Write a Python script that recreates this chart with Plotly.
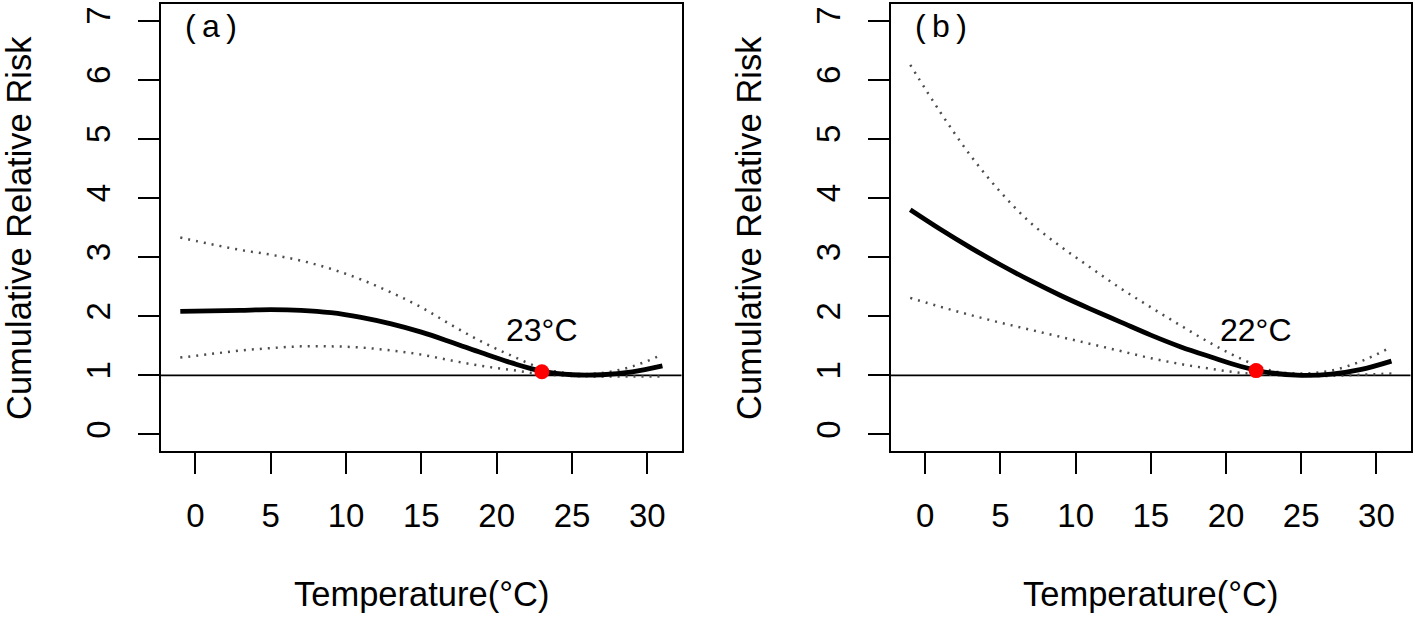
import plotly.graph_objects as go

# Temperature grid (°C)
temp = [-1, 1, 3, 5, 7, 9, 11, 13, 15, 17, 19, 21, 23, 25, 27, 29, 31]

# Panel (a)
rr_a = [2.08, 2.09, 2.10, 2.11, 2.10, 2.06, 1.98, 1.87, 1.73, 1.56, 1.38, 1.21, 1.07, 1.01, 1.01, 1.06, 1.16]
hi_a = [3.33, 3.22, 3.12, 3.04, 2.94, 2.80, 2.62, 2.40, 2.15, 1.85, 1.57, 1.33, 1.12, 1.03, 1.04, 1.15, 1.35]
lo_a = [1.30, 1.36, 1.42, 1.46, 1.49, 1.49, 1.47, 1.42, 1.35, 1.25, 1.16, 1.09, 1.02, 0.99, 0.98, 0.98, 0.98]
mmt_a = 23
mmt_rr_a = 1.06

# Panel (b)
rr_b = [3.80, 3.47, 3.16, 2.87, 2.60, 2.35, 2.12, 1.90, 1.68, 1.48, 1.31, 1.15, 1.04, 1.00, 1.02, 1.10, 1.24]
hi_b = [6.25, 5.45, 4.72, 4.10, 3.58, 3.18, 2.82, 2.47, 2.15, 1.84, 1.54, 1.28, 1.08, 1.03, 1.08, 1.24, 1.48]
lo_b = [2.31, 2.16, 2.02, 1.89, 1.77, 1.65, 1.53, 1.41, 1.29, 1.19, 1.11, 1.04, 1.01, 0.99, 0.99, 1.01, 1.03]
mmt_b = 22
mmt_rr_b = 1.08

x_ticks = [0, 5, 10, 15, 20, 25, 30]
y_ticks = [0, 1, 2, 3, 4, 5, 6, 7]

FONT = "Liberation Sans, Arial, Helvetica, sans-serif"

fig = go.Figure()

panels = [
    ("x", "y", rr_a, hi_a, lo_a, mmt_a, mmt_rr_a, "(\u2009a\u2009)"),
    ("x2", "y2", rr_b, hi_b, lo_b, mmt_b, mmt_rr_b, "(\u2009b\u2009)"),
]

for xa, ya, rr, hi, lo, mmt, mrr, lab in panels:
    # reference line at RR = 1
    fig.add_trace(go.Scatter(x=[-2.28, 32.28], y=[1, 1], mode="lines",
                             line=dict(color="black", width=1.8),
                             xaxis=xa, yaxis=ya, hoverinfo="skip"))
    for band in (hi, lo):
        fig.add_trace(go.Scatter(x=temp, y=band, mode="lines",
                                 line=dict(color="#4d4d4d", width=2.5, dash="2px,6px", shape="spline"),
                                 xaxis=xa, yaxis=ya))
    fig.add_trace(go.Scatter(x=temp, y=rr, mode="lines",
                             line=dict(color="black", width=4.8, shape="spline"),
                             xaxis=xa, yaxis=ya))
    fig.add_trace(go.Scatter(x=[mmt], y=[mrr], mode="markers",
                             marker=dict(color="red", size=15),
                             xaxis=xa, yaxis=ya))
    fig.add_annotation(x=mmt, y=1.76, xref=xa, yref=ya, text=f"{mmt}°C",
                       showarrow=False, font=dict(size=32, color="black", family=FONT),
                       xanchor="center", yanchor="middle")
    fig.add_annotation(x=1.06, y=6.9, xref=xa, yref=ya, text=lab,
                       showarrow=False, font=dict(size=32, color="black", family=FONT),
                       xanchor="center", yanchor="middle")

xcommon = dict(range=[-2.28, 32.28], tickvals=x_ticks, ticks="outside", ticklen=21,
               tickwidth=2, tickcolor="black", showline=True, linecolor="black",
               linewidth=2, mirror=True, showgrid=False, zeroline=False,
               tickfont=dict(size=33, color="black", family=FONT),
               ticklabelstandoff=13)
ycommon = dict(range=[-0.28, 7.28], tickvals=y_ticks, ticks="outside", ticklen=21,
               tickwidth=2, tickcolor="black", showline=True, linecolor="black",
               linewidth=2, mirror=True, showgrid=False, zeroline=False,
               tickangle=-90, tickfont=dict(size=33, color="black", family=FONT),
               ticklabelstandoff=15, domain=[0.2749, 0.9936])

fig.update_layout(
    width=1415, height=622,
    margin=dict(l=0, r=0, t=0, b=0),
    paper_bgcolor="white", plot_bgcolor="white",
    showlegend=False,
    xaxis=dict(domain=[0.11378, 0.48177], anchor="y", **xcommon),
    xaxis2=dict(domain=[0.62968, 0.99696], anchor="y2", **xcommon),
    yaxis=dict(anchor="x", **ycommon),
    yaxis2=dict(anchor="x2", **ycommon),
)

# axis titles
for xc, yc_x in ((421.4 / 1415, 19 / 1415), (1150.8 / 1415, 749 / 1415)):
    fig.add_annotation(x=xc, y=1 - 594 / 622, xref="paper", yref="paper",
                       text="Temperature(°C)", showarrow=False,
                       font=dict(size=34.5, color="black", family=FONT),
                       xanchor="center", yanchor="middle")
    fig.add_annotation(x=yc_x, y=1 - 228 / 622, xref="paper", yref="paper",
                       text="Cumulative Relative Risk", showarrow=False, textangle=-90,
                       font=dict(size=34.5, color="black", family=FONT),
                       xanchor="center", yanchor="middle")

fig.write_html("out.html", config={"displayModeBar": False},
               post_script="document.body.style.margin='0';")
